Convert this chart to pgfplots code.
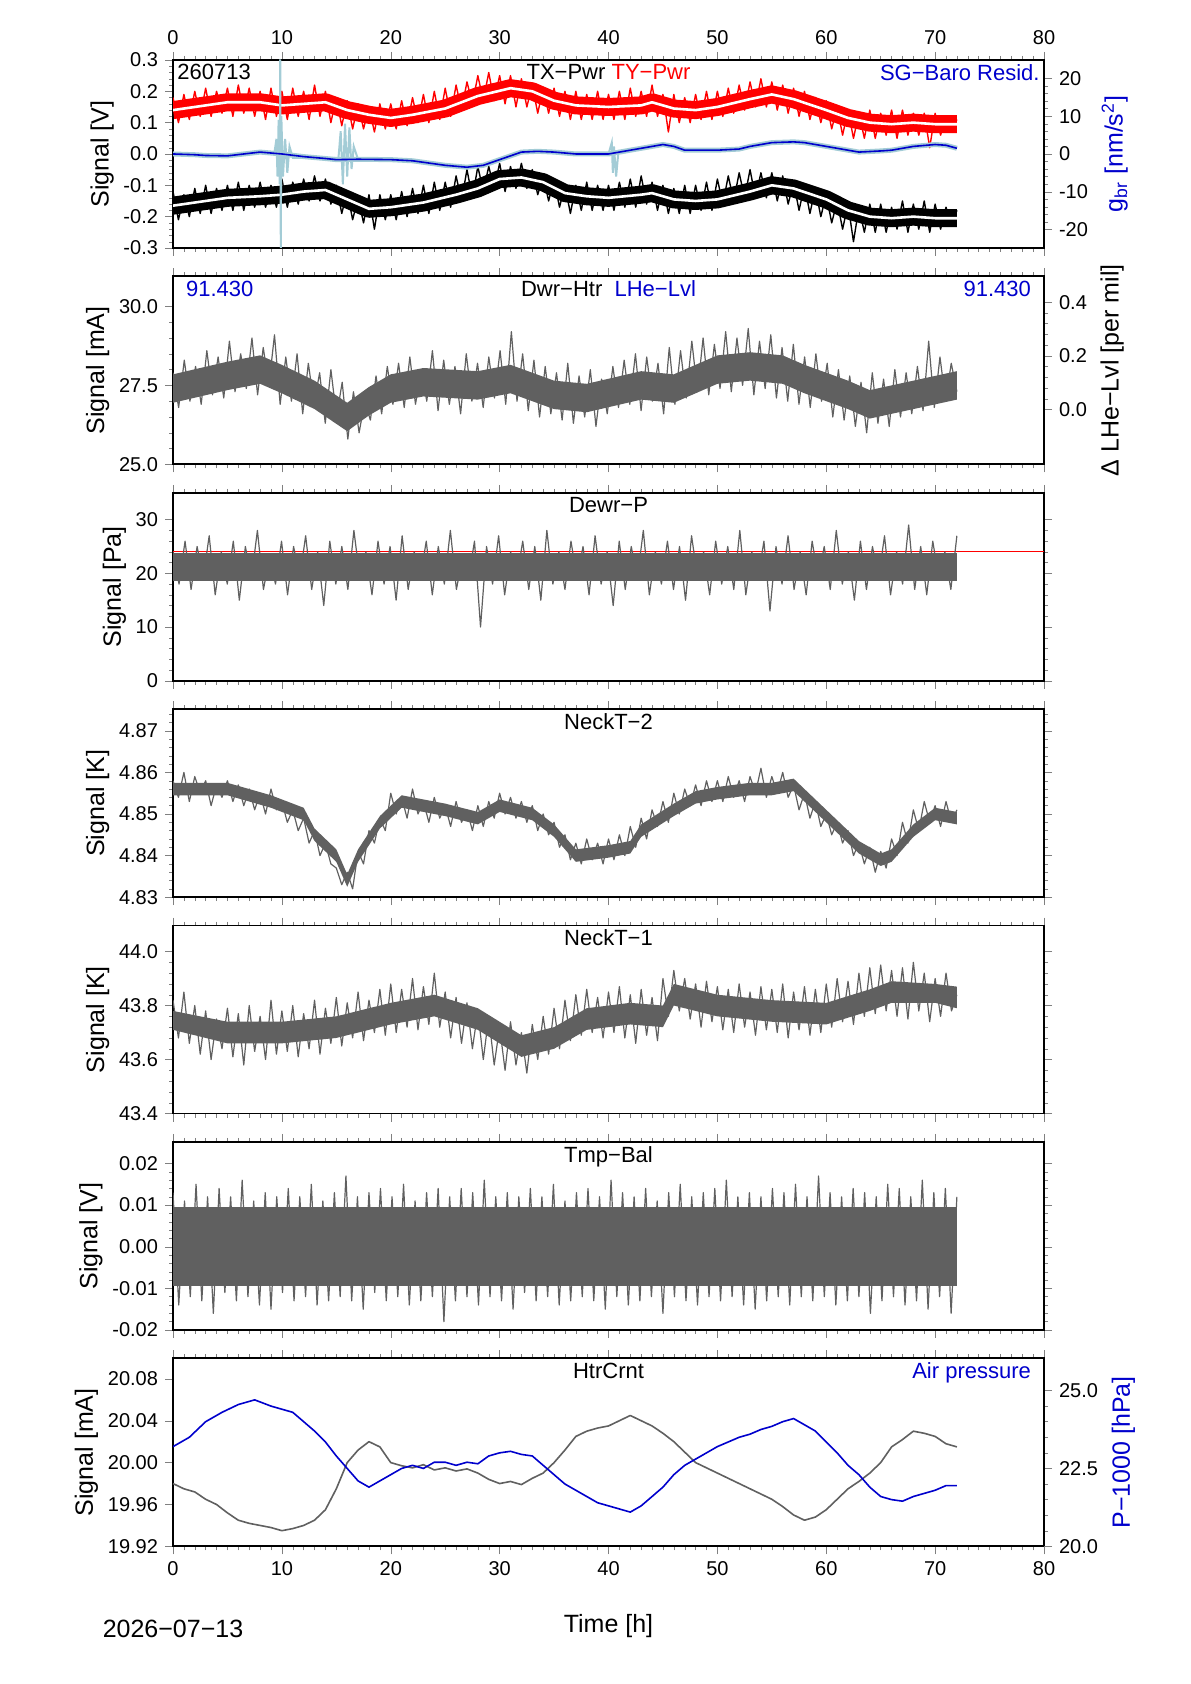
\documentclass[border=0pt]{standalone}
\usepackage{pgfplots}
\pgfplotsset{compat=1.18}
\usepackage{pgfplotstable}
\usepackage{fontspec}
\setmainfont{Liberation Sans}
\definecolor{dg}{HTML}{606060}
\definecolor{bl}{HTML}{0000CC}
\definecolor{lb}{HTML}{A3CCD6}
\tikzset{ttl/.style={font=\fontsize{11}{13}\selectfont,inner sep=2pt}}
\newcommand{\rd}[1]{\pgfplotstableread[header=false,row sep=\\]{#1}}
\rd{.18\\.10\\.19\\.11\\.20\\.12\\.21\\.12\\.20\\.13\\.21\\.12\\.22\\.13\\.21\\.12\\.20\\.11\\.21\\.12\\.20\\.11\\.21\\.12\\.20\\.11\\.22\\.12\\.20\\.10\\.18\\.09\\.17\\.08\\.16\\.08\\.15\\.07\\.16\\.08\\.16\\.08\\.17\\.09\\.18\\.10\\.19\\.10\\.20\\.11\\.21\\.12\\.22\\.14\\.23\\.16\\.25\\.17\\.26\\.17\\.25\\.16\\.25\\.15\\.24\\.15\\.22\\.13\\.21\\.13\\.21\\.12\\.20\\.11\\.20\\.11\\.19\\.11\\.20\\.11\\.19\\.11\\.20\\.11\\.21\\.12\\.20\\.12\\.22\\.12\\.19\\.07\\.19\\.10\\.18\\.10\\.19\\.11\\.20\\.11\\.20\\.12\\.21\\.13\\.22\\.14\\.23\\.15\\.24\\.15\\.23\\.14\\.22\\.13\\.21\\.12\\.20\\.11\\.18\\.10\\.17\\.08\\.15\\.06\\.14\\.05\\.13\\.05\\.14\\.05\\.13\\.06\\.14\\.05\\.14\\.06\\.13\\.06\\.13\\.02\\.13\\.06\\.12\\.07\\.11\\}\TY
\rd{-.12\\-.21\\-.13\\-.20\\-.11\\-.19\\-.10\\-.19\\-.11\\-.18\\-.10\\-.18\\-.09\\-.18\\-.10\\-.17\\-.09\\-.17\\-.10\\-.17\\-.08\\-.17\\-.09\\-.16\\-.08\\-.15\\-.07\\-.15\\-.08\\-.16\\-.10\\-.19\\-.12\\-.21\\-.14\\-.22\\-.13\\-.24\\-.13\\-.21\\-.13\\-.21\\-.12\\-.20\\-.11\\-.19\\-.10\\-.19\\-.09\\-.18\\-.09\\-.17\\-.07\\-.15\\-.05\\-.14\\-.04\\-.12\\-.04\\-.11\\-.03\\-.12\\-.04\\-.11\\-.03\\-.11\\-.05\\-.13\\-.07\\-.15\\-.08\\-.17\\-.10\\-.19\\-.10\\-.18\\-.09\\-.18\\-.10\\-.18\\-.10\\-.18\\-.09\\-.17\\-.08\\-.17\\-.07\\-.16\\-.09\\-.18\\-.10\\-.19\\-.11\\-.19\\-.10\\-.19\\-.10\\-.18\\-.09\\-.18\\-.08\\-.16\\-.07\\-.15\\-.06\\-.14\\-.05\\-.14\\-.06\\-.14\\-.06\\-.15\\-.07\\-.16\\-.09\\-.18\\-.10\\-.19\\-.11\\-.20\\-.13\\-.22\\-.15\\-.24\\-.16\\-.28\\-.17\\-.25\\-.16\\-.25\\-.16\\-.25\\-.17\\-.24\\-.15\\-.25\\-.16\\-.24\\-.15\\-.25\\-.16\\-.24\\-.17\\-.23\\-.18\\}\TX
\rd{27.9\\26.8\\28.3\\27.0\\28.1\\26.9\\28.6\\27.2\\28.4\\27.1\\28.9\\27.3\\28.5\\27.4\\29.0\\27.2\\28.7\\27.5\\29.1\\26.9\\28.4\\27.0\\28.5\\26.6\\28.2\\26.9\\27.9\\26.3\\28.0\\26.5\\27.6\\25.8\\27.3\\26.0\\27.0\\26.4\\27.8\\26.6\\28.1\\26.9\\28.2\\26.8\\28.4\\26.9\\28.0\\27.0\\28.6\\26.7\\28.3\\26.9\\28.1\\26.6\\28.5\\27.0\\28.2\\26.8\\28.4\\27.1\\28.6\\26.9\\29.2\\27.0\\28.5\\26.7\\28.3\\26.5\\28.1\\26.6\\27.9\\26.4\\28.2\\26.3\\27.8\\26.5\\28.0\\26.2\\27.7\\26.6\\28.1\\26.8\\28.3\\26.9\\28.5\\26.7\\28.4\\27.0\\28.2\\26.6\\28.7\\26.9\\28.6\\27.1\\28.9\\27.3\\29.0\\27.2\\28.8\\27.4\\29.2\\27.3\\29.0\\27.5\\29.3\\27.2\\28.9\\27.4\\29.1\\27.1\\28.7\\27.0\\28.8\\26.9\\28.4\\26.8\\28.5\\27.0\\28.2\\26.5\\28.0\\26.4\\27.8\\26.2\\27.6\\26.0\\27.9\\26.3\\27.7\\26.2\\28.0\\26.5\\27.9\\26.6\\28.1\\26.7\\28.9\\26.8\\28.4\\27.0\\28.2\\27.3\\}\DH
\rd{24\\18\\26\\17\\25\\19\\27\\16\\24\\18\\26\\15\\25\\19\\28\\17\\23\\18\\26\\16\\25\\19\\27\\17\\24\\14\\26\\18\\25\\17\\28\\19\\24\\16\\26\\18\\25\\15\\27\\17\\24\\19\\26\\16\\25\\18\\28\\17\\23\\19\\26\\10\\25\\18\\27\\16\\24\\19\\26\\17\\25\\15\\28\\18\\24\\17\\26\\19\\25\\16\\27\\18\\24\\14\\26\\17\\25\\19\\28\\16\\24\\18\\26\\17\\25\\15\\27\\19\\24\\16\\26\\18\\25\\17\\28\\16\\24\\19\\26\\13\\25\\18\\27\\17\\24\\16\\26\\19\\25\\17\\28\\18\\24\\15\\26\\17\\25\\19\\27\\16\\24\\18\\29\\17\\25\\16\\26\\19\\24\\17\\27\\}\DP
\rd{4.858\\4.854\\4.860\\4.853\\4.859\\4.855\\4.858\\4.852\\4.857\\4.854\\4.858\\4.853\\4.857\\4.852\\4.856\\4.851\\4.855\\4.850\\4.856\\4.851\\4.853\\4.848\\4.851\\4.846\\4.849\\4.843\\4.846\\4.840\\4.843\\4.838\\4.837\\4.833\\4.836\\4.832\\4.841\\4.838\\4.846\\4.843\\4.849\\4.846\\4.855\\4.850\\4.854\\4.849\\4.856\\4.850\\4.853\\4.848\\4.854\\4.849\\4.852\\4.847\\4.853\\4.848\\4.851\\4.846\\4.852\\4.847\\4.853\\4.849\\4.855\\4.850\\4.854\\4.849\\4.853\\4.848\\4.852\\4.846\\4.850\\4.845\\4.848\\4.842\\4.845\\4.839\\4.843\\4.838\\4.844\\4.839\\4.843\\4.838\\4.844\\4.839\\4.845\\4.840\\4.847\\4.842\\4.849\\4.844\\4.851\\4.847\\4.853\\4.848\\4.855\\4.850\\4.856\\4.852\\4.857\\4.852\\4.858\\4.853\\4.858\\4.853\\4.859\\4.854\\4.858\\4.853\\4.859\\4.855\\4.861\\4.854\\4.859\\4.855\\4.860\\4.854\\4.857\\4.851\\4.855\\4.849\\4.853\\4.847\\4.850\\4.845\\4.848\\4.843\\4.846\\4.840\\4.843\\4.838\\4.842\\4.836\\4.841\\4.837\\4.844\\4.840\\4.848\\4.843\\4.851\\4.846\\4.853\\4.848\\4.852\\4.847\\4.853\\4.848\\4.851\\}\NB
\rd{43.82\\43.68\\43.85\\43.66\\43.80\\43.62\\43.78\\43.60\\43.75\\43.64\\43.79\\43.61\\43.77\\43.58\\43.80\\43.63\\43.76\\43.60\\43.82\\43.62\\43.78\\43.63\\43.80\\43.61\\43.77\\43.64\\43.82\\43.62\\43.79\\43.66\\43.83\\43.65\\43.81\\43.68\\43.85\\43.67\\43.82\\43.70\\43.86\\43.69\\43.88\\43.70\\43.86\\43.72\\43.90\\43.71\\43.87\\43.73\\43.92\\43.72\\43.85\\43.68\\43.83\\43.66\\43.81\\43.64\\43.78\\43.60\\43.76\\43.58\\43.72\\43.56\\43.74\\43.58\\43.70\\43.55\\43.73\\43.60\\43.76\\43.62\\43.79\\43.64\\43.82\\43.67\\43.84\\43.69\\43.86\\43.70\\43.83\\43.68\\43.85\\43.70\\43.87\\43.68\\43.84\\43.66\\43.86\\43.69\\43.83\\43.67\\43.90\\43.76\\43.93\\43.78\\43.90\\43.75\\43.88\\43.72\\43.89\\43.74\\43.87\\43.71\\43.86\\43.70\\43.88\\43.72\\43.85\\43.69\\43.87\\43.71\\43.86\\43.70\\43.88\\43.68\\43.85\\43.71\\43.87\\43.69\\43.86\\43.70\\43.88\\43.72\\43.90\\43.74\\43.89\\43.73\\43.92\\43.76\\43.94\\43.77\\43.95\\43.78\\43.93\\43.76\\43.94\\43.75\\43.96\\43.78\\43.92\\43.74\\43.90\\43.76\\43.92\\43.78\\43.84\\}\NA
\rd{0.013\\-0.014\\0.011\\-0.012\\0.015\\-0.013\\0.012\\-0.016\\0.014\\-0.011\\0.012\\-0.013\\0.016\\-0.012\\0.011\\-0.014\\0.013\\-0.015\\0.012\\-0.011\\0.014\\-0.013\\0.012\\-0.012\\0.015\\-0.014\\0.011\\-0.013\\0.013\\-0.012\\0.017\\-0.013\\0.012\\-0.015\\0.013\\-0.011\\0.014\\-0.013\\0.012\\-0.012\\0.015\\-0.014\\0.011\\-0.013\\0.013\\-0.012\\0.014\\-0.018\\0.012\\-0.013\\0.014\\-0.012\\0.013\\-0.014\\0.016\\-0.012\\0.012\\-0.013\\0.013\\-0.015\\0.012\\-0.011\\0.014\\-0.013\\0.012\\-0.012\\0.015\\-0.014\\0.011\\-0.013\\0.013\\-0.012\\0.014\\-0.013\\0.012\\-0.015\\0.016\\-0.012\\0.013\\-0.014\\0.012\\-0.013\\0.014\\-0.012\\0.011\\-0.016\\0.013\\-0.012\\0.015\\-0.013\\0.012\\-0.014\\0.013\\-0.012\\0.014\\-0.013\\0.016\\-0.012\\0.012\\-0.014\\0.013\\-0.015\\0.012\\-0.013\\0.014\\-0.012\\0.013\\-0.014\\0.015\\-0.012\\0.012\\-0.013\\0.017\\-0.012\\0.013\\-0.014\\0.012\\-0.013\\0.014\\-0.012\\0.013\\-0.016\\0.012\\-0.013\\0.015\\-0.012\\0.014\\-0.014\\0.012\\-0.013\\0.016\\-0.015\\0.013\\-0.012\\0.014\\-0.016\\0.012\\}\TB
\newcommand{\stp}[1]{\pgfplotstablegetrowsof{#1}\pgfmathparse{72/(\pgfplotsretval-1)}\global\let\cstp\pgfmathresult}
\pgfplotsset{
 panel/.style={width=435.5pt,height=94pt,scale only axis,xmin=0,xmax=80,
  xtick={0,10,...,80},minor x tick num=9,tick align=outside,
  major tick length=4pt,minor tick length=2pt,minor y tick num=4,
  xticklabels={},axis line style={line width=0.9pt},
  tick label style={font=\fontsize{10}{12}\selectfont},
  label style={font=\fontsize{12.5}{14}\selectfont},
  /pgf/number format/assume math mode=true,scaled y ticks=false,
  yticklabel style={/pgf/number format/fixed,/pgf/number format/fixed zerofill},
  ylabel style={yshift=-2pt},
  every axis plot/.append style={line join=round}},
 rax/.style={width=435.5pt,height=94pt,scale only axis,xmin=0,xmax=80,
  axis x line=none,axis y line*=right,tick align=outside,major tick length=4pt,
  minor tick length=2pt,minor y tick num=4,
  tick label style={font=\fontsize{10}{12}\selectfont},
  label style={font=\fontsize{12.5}{14}\selectfont},
  /pgf/number format/assume math mode=true,
  yticklabel style={/pgf/number format/fixed,/pgf/number format/fixed zerofill}}}
\begin{document}
\begin{tikzpicture}
\path[use as bounding box] (0,0) rectangle (595pt,842pt);
% Panel 1
\begin{axis}[panel,at={(86.5pt,812pt)},anchor=north west,ymin=-0.3,ymax=0.3,ytick={-0.3,-0.2,...,0.3},
 yticklabel style={/pgf/number format/precision=1},ylabel={Signal [V]},ytick pos=left,
 xticklabel pos=upper,xticklabels={0,10,20,30,40,50,60,70,80},xtick pos=both]
\stp{\TY}
\addplot[red,line width=9pt] coordinates {(0,0.14)(3,0.155)(5,0.165)(8,0.165)(10,0.155)(12,0.16)(14,0.165)(16,0.14)(18,0.125)(20,0.115)(22,0.125)(25,0.145)(28,0.185)(31,0.21)(33,0.2)(35,0.17)(37,0.155)(40,0.15)(43,0.155)(44,0.165)(46,0.145)(48,0.14)(50,0.15)(53,0.175)(55,0.19)(57,0.175)(60,0.14)(62,0.115)(64,0.1)(66,0.095)(68,0.1)(70,0.095)(72,0.095)};
\addplot[red,line width=0.7pt] table[x expr=\coordindex*\cstp,y index=0]{\TY};
\addplot[white,line width=1.3pt] coordinates {(0,0.14)(3,0.155)(5,0.165)(8,0.165)(10,0.155)(12,0.16)(14,0.165)(16,0.14)(18,0.125)(20,0.115)(22,0.125)(25,0.145)(28,0.185)(31,0.21)(33,0.2)(35,0.17)(37,0.155)(40,0.15)(43,0.155)(44,0.165)(46,0.145)(48,0.14)(50,0.15)(53,0.175)(55,0.19)(57,0.175)(60,0.14)(62,0.115)(64,0.1)(66,0.095)(68,0.1)(70,0.095)(72,0.095)};
\stp{\TX}
\addplot[black,line width=9pt] coordinates {(0,-0.165)(5,-0.14)(8,-0.135)(10,-0.13)(12,-0.12)(14,-0.115)(16,-0.145)(18,-0.175)(20,-0.17)(23,-0.155)(26,-0.13)(28,-0.11)(30,-0.08)(32,-0.075)(34,-0.09)(36,-0.125)(38,-0.135)(40,-0.14)(43,-0.13)(44,-0.125)(46,-0.145)(48,-0.15)(50,-0.145)(53,-0.12)(55,-0.1)(57,-0.11)(60,-0.145)(62,-0.18)(64,-0.2)(66,-0.205)(68,-0.2)(70,-0.205)(72,-0.205)};
\addplot[black,line width=0.7pt] table[x expr=\coordindex*\cstp,y index=0]{\TX};
\addplot[white,line width=1.3pt] coordinates {(0,-0.165)(5,-0.14)(8,-0.135)(10,-0.13)(12,-0.12)(14,-0.115)(16,-0.145)(18,-0.175)(20,-0.17)(23,-0.155)(26,-0.13)(28,-0.11)(30,-0.08)(32,-0.075)(34,-0.09)(36,-0.125)(38,-0.135)(40,-0.14)(43,-0.13)(44,-0.125)(46,-0.145)(48,-0.15)(50,-0.145)(53,-0.12)(55,-0.1)(57,-0.11)(60,-0.145)(62,-0.18)(64,-0.2)(66,-0.205)(68,-0.2)(70,-0.205)(72,-0.205)};
\node[ttl,anchor=north west] at (rel axis cs:0,1) {260713};
\node[ttl,anchor=north] at (rel axis cs:0.5,1) {TX−Pwr \textcolor{red}{TY−Pwr}};
\node[ttl,anchor=north east,text=bl] at (rel axis cs:1,1) {SG−Baro Resid.};
\end{axis}
\begin{axis}[rax,at={(86.5pt,812pt)},anchor=north west,ymin=-24.86,ymax=24.86,ytick={-20,-10,...,20},
 ylabel={g\textsubscript{br} [nm/s\textsuperscript{2}]},ylabel style={text=bl},yticklabel style={/pgf/number format/precision=0}]
\addplot[lb,line width=2.5pt] coordinates {(0,0)(2,-0.2)(3,-0.4)(5,-0.5)(6.5,0)(8,0.5)(10,0)(12,-0.7)(14,-1.2)(15,-1.5)(17,-1.4)(20,-1.5)(22,-1.8)(25,-3)(27,-3.5)(28.5,-3)(30,-1.5)(32,0.5)(33.5,0.7)(35,0.5)(37,0)(40,0)(42,1)(43,1.5)(45,2.5)(46,2)(47,1)(50,1)(52,1.3)(53,2)(55,3)(57,3.2)(58,3)(60,2)(62,1)(63,0.5)(65,0.8)(66,1)(68,2)(70,2.5)(71,2.3)(72,1.5)};
\addplot[lb,line width=1pt] coordinates {(9.3,0)(9.5,4)(9.6,-6)(9.7,9)(9.8,-8)(9.85,25)(9.9,-25)(9.95,10)(10.1,-6)(10.3,4)(10.5,-5)(10.7,2)(11,-1)(15.2,-1)(15.4,6)(15.6,-8)(15.8,8)(16,-6)(16.2,7)(16.4,-4)(16.6,2)(17,-1.5)};
\addplot[lb,line width=1pt] coordinates {(40,0)(40.3,3)(40.4,-5)(40.5,2)(40.7,-6)(40.9,0.3)};
\addplot[bl,line width=0.8pt] coordinates {(0,0)(2,-0.2)(3,-0.4)(5,-0.5)(6.5,0)(8,0.5)(10,0)(12,-0.7)(14,-1.2)(15,-1.5)(17,-1.4)(20,-1.5)(22,-1.8)(25,-3)(27,-3.5)(28.5,-3)(30,-1.5)(32,0.5)(33.5,0.7)(35,0.5)(37,0)(40,0)(42,1)(43,1.5)(45,2.5)(46,2)(47,1)(50,1)(52,1.3)(53,2)(55,3)(57,3.2)(58,3)(60,2)(62,1)(63,0.5)(65,0.8)(66,1)(68,2)(70,2.5)(71,2.3)(72,1.5)};
\end{axis}
% Panel 2
\begin{axis}[panel,at={(86.5pt,703.8pt)},anchor=north west,ymin=25,ymax=30.95,ytick={25,27.5,30},ytick pos=left,xtick pos=both,
 yticklabel style={/pgf/number format/precision=1},ylabel={Signal [mA]}]
\stp{\DH}
\addplot[fill=dg,draw=none] coordinates {(0,27.85)(5,28.25)(8,28.45)(10,28.15)(13,27.65)(16,26.95)(18,27.45)(20,27.85)(23,28.05)(28,27.95)(31,28.15)(35,27.65)(38,27.55)(43,27.95)(46,27.85)(50,28.45)(53,28.55)(56,28.45)(58,28.15)(62,27.65)(64,27.35)(68,27.65)(72,27.95)(72,27.05)(68,26.75)(64,26.45)(62,26.75)(58,27.25)(56,27.55)(53,27.65)(50,27.55)(46,26.95)(43,27.05)(38,26.65)(35,26.75)(31,27.25)(28,27.05)(23,27.15)(20,26.95)(18,26.55)(16,26.05)(13,26.75)(10,27.25)(8,27.55)(5,27.35)(0,26.95)} -- cycle;
\addplot[dg,line width=0.6pt] table[x expr=\coordindex*\cstp,y index=0]{\DH};
\node[ttl,anchor=north west,text=bl] at (rel axis cs:0.01,1) {91.430};
\node[ttl,anchor=north east,text=bl] at (rel axis cs:0.99,1) {91.430};
\node[ttl,anchor=north] at (rel axis cs:0.5,1) {Dwr−Htr \ \textcolor{bl}{LHe−Lvl}};
\end{axis}
\begin{axis}[rax,at={(86.5pt,703.8pt)},anchor=north west,ymin=-0.204,ymax=0.496,ytick={0,0.2,0.4},
 ylabel={Δ LHe−Lvl [per mil]},yticklabel style={/pgf/number format/precision=1}]
\addplot[draw=none] coordinates {(0,0)};
\end{axis}
% Panel 3
\begin{axis}[panel,at={(86.5pt,595.6pt)},anchor=north west,ymin=0,ymax=35,ytick={0,10,20,30},
 yticklabel style={/pgf/number format/precision=0,/pgf/number format/fixed zerofill=false},ylabel={Signal [Pa]}]
\stp{\DP}
\addplot[fill=dg,draw=none] coordinates {(0,18.5)(72,18.5)(72,23.8)(0,23.8)} -- cycle;
\addplot[red,line width=0.4pt] coordinates {(0,24)(80,24)};
\addplot[dg,line width=0.6pt] table[x expr=\coordindex*\cstp,y index=0]{\DP};
\node[ttl,anchor=north] at (rel axis cs:0.5,1) {Dewr−P};
\end{axis}
% Panel 4
\begin{axis}[panel,at={(86.5pt,487.4pt)},anchor=north west,ymin=4.83,ymax=4.8752,ytick={4.83,4.84,...,4.875},
 yticklabel style={/pgf/number format/precision=2},ylabel={Signal [K]}]
\stp{\NB}
\addplot[fill=dg,draw=none] coordinates {(0,4.8575)(5,4.8575)(9,4.8545)(12,4.8515)(13,4.8465)(15,4.8415)(16,4.8355)(17,4.8415)(19,4.8495)(21,4.8545)(25,4.8525)(28,4.8505)(30,4.8535)(33,4.8515)(35,4.8475)(37,4.8415)(40,4.8425)(42,4.8435)(43,4.8475)(46,4.8525)(48,4.8555)(50,4.8565)(53,4.8575)(55,4.8575)(57,4.8585)(59,4.8535)(61,4.8485)(63,4.8435)(65,4.8405)(66,4.8415)(68,4.8475)(70,4.8515)(72,4.8505)(72,4.8475)(70,4.8485)(68,4.8445)(66,4.8385)(65,4.8375)(63,4.8405)(61,4.8455)(59,4.8505)(57,4.8555)(55,4.8545)(53,4.8545)(50,4.8535)(48,4.8525)(46,4.8495)(43,4.8445)(42,4.8405)(40,4.8395)(37,4.8385)(35,4.8445)(33,4.8485)(30,4.8505)(28,4.8475)(25,4.8495)(21,4.8515)(19,4.8465)(17,4.8385)(16,4.8325)(15,4.8385)(13,4.8435)(12,4.8485)(9,4.8515)(5,4.8545)(0,4.8545)} -- cycle;
\addplot[dg,line width=0.6pt] table[x expr=\coordindex*\cstp,y index=0]{\NB};
\node[ttl,anchor=north] at (rel axis cs:0.5,1) {NeckT−2};
\end{axis}
% Panel 5
\begin{axis}[panel,at={(86.5pt,379.2pt)},anchor=north west,ymin=43.4,ymax=44.096,ytick={43.4,43.6,43.8,44.0},
 yticklabel style={/pgf/number format/precision=1},ylabel={Signal [K]}]
\stp{\NA}
\addplot[fill=dg,draw=none] coordinates {(0,43.78)(5,43.74)(10,43.74)(15,43.76)(20,43.81)(24,43.84)(28,43.79)(30,43.74)(32,43.69)(35,43.72)(38,43.79)(42,43.81)(45,43.80)(46,43.88)(50,43.84)(55,43.82)(60,43.81)(64,43.86)(66,43.89)(70,43.88)(72,43.87)(72,43.79)(70,43.81)(66,43.81)(64,43.78)(60,43.73)(55,43.74)(50,43.76)(46,43.80)(45,43.72)(42,43.73)(38,43.71)(35,43.64)(32,43.61)(30,43.66)(28,43.71)(24,43.76)(20,43.73)(15,43.68)(10,43.66)(5,43.66)(0,43.71)} -- cycle;
\addplot[dg,line width=0.6pt] table[x expr=\coordindex*\cstp,y index=0]{\NA};
\node[ttl,anchor=north] at (rel axis cs:0.5,1) {NeckT−1};
\end{axis}
% Panel 6
\begin{axis}[panel,at={(86.5pt,271pt)},anchor=north west,ymin=-0.02,ymax=0.02516,ytick={-0.02,-0.01,0,0.01,0.02},
 yticklabel style={/pgf/number format/precision=2},ylabel={Signal [V]}]
\stp{\TB}
\addplot[fill=dg,draw=none] coordinates {(0,-0.0095)(72,-0.0095)(72,0.0095)(0,0.0095)} -- cycle;
\addplot[dg,line width=0.6pt] table[x expr=\coordindex*\cstp,y index=0]{\TB};
\node[ttl,anchor=north] at (rel axis cs:0.5,1) {Tmp−Bal};
\end{axis}
% Panel 7
\begin{axis}[panel,at={(86.5pt,162.8pt)},anchor=north west,ymin=19.92,ymax=20.0995,ytick={19.92,19.96,...,20.09},
 yticklabel style={/pgf/number format/precision=2},ylabel={Signal [mA]},ytick pos=left,xtick pos=both,
 xticklabel pos=lower,xticklabels={0,10,20,30,40,50,60,70,80},clip=false]
\addplot[dg,line width=0.8pt] coordinates {(0,19.98)(1,19.975)(2,19.972)(3,19.965)(4,19.96)(5,19.952)(6,19.945)(7,19.942)(8,19.94)(9,19.938)(10,19.935)(11,19.937)(12,19.94)(13,19.945)(14,19.955)(15,19.975)(16,20.0)(17,20.012)(18,20.02)(19,20.015)(20,20.0)(21,19.997)(22,19.995)(23,19.998)(24,19.993)(25,19.995)(26,19.992)(27,19.994)(28,19.99)(29,19.984)(30,19.98)(31,19.982)(32,19.979)(33,19.985)(34,19.99)(35,20.0)(36,20.012)(37,20.025)(38,20.03)(39,20.033)(40,20.035)(41,20.04)(42,20.045)(43,20.04)(44,20.035)(45,20.028)(46,20.02)(47,20.01)(48,20.0)(49,19.995)(50,19.99)(51,19.985)(52,19.98)(53,19.975)(54,19.97)(55,19.965)(56,19.958)(57,19.95)(58,19.945)(59,19.948)(60,19.955)(61,19.965)(62,19.975)(63,19.982)(64,19.99)(65,20.0)(66,20.015)(67,20.022)(68,20.03)(69,20.028)(70,20.025)(71,20.018)(72,20.015)};
\node[ttl,anchor=north] at (rel axis cs:0.5,1) {HtrCrnt};
\node[ttl,anchor=north east,text=bl] at (rel axis cs:0.99,1) {Air pressure};
\node[font=\fontsize{12.5}{14}\selectfont] at (rel axis cs:0.5,0) [yshift=-40pt] {Time [h]};
\node[font=\fontsize{12.5}{14}\selectfont] at (rel axis cs:0,0) [yshift=-41pt] {2026−07−13};
\end{axis}
\begin{axis}[rax,at={(86.5pt,162.8pt)},anchor=north west,ymin=20,ymax=26.03,ytick={20,22.5,25},
 ylabel={P−1000 [hPa]},ylabel style={text=bl},yticklabel style={/pgf/number format/precision=1}]
\addplot[bl,line width=0.8pt] coordinates {(0,23.2)(1.5,23.5)(3,24.0)(4.5,24.3)(6,24.55)(7.5,24.7)(9,24.5)(10,24.4)(11,24.3)(12,24.0)(13,23.7)(14,23.35)(15,22.9)(16,22.5)(17,22.1)(18,21.9)(19,22.1)(20,22.3)(21,22.5)(22,22.6)(23,22.5)(24,22.7)(25,22.7)(26,22.6)(27,22.7)(28,22.65)(29,22.9)(30,23.0)(31,23.05)(32,22.95)(33,22.9)(34,22.6)(35,22.3)(36,22.0)(37,21.8)(38,21.6)(39,21.4)(40,21.3)(41,21.2)(42,21.1)(43,21.3)(44,21.6)(45,21.9)(46,22.3)(47,22.6)(48,22.8)(49,23.0)(50,23.2)(51,23.35)(52,23.5)(53,23.6)(54,23.75)(55,23.85)(56,24.0)(57,24.1)(58,23.9)(59,23.7)(60,23.35)(61,23.0)(62,22.6)(63,22.3)(64,21.9)(65,21.6)(66,21.5)(67,21.45)(68,21.6)(69,21.7)(70,21.8)(71,21.95)(72,21.95)};
\end{axis}
\end{tikzpicture}
\end{document}
